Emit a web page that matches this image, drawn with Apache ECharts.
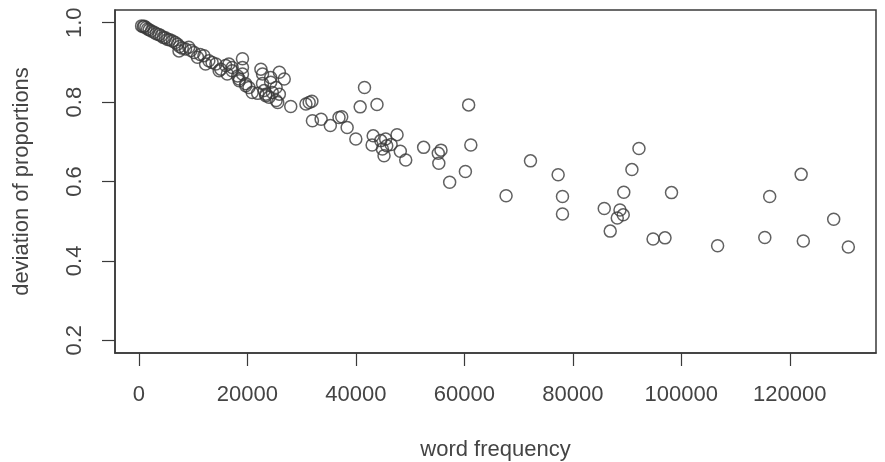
<!DOCTYPE html>
<html>
<head>
<meta charset="utf-8">
<script src="https://cdn.jsdelivr.net/npm/echarts@6/dist/echarts.min.js"></script>
<style>
  html, body { margin: 0; padding: 0; background: #fff; }
  #chart { width: 885px; height: 462px; }
</style>
</head>
<body>
<div id="chart"></div>
<script>
// word frequency (x) and deviation of proportions (y)
const freq = [
  500, 800, 1000, 1300, 1600, 1900, 2300, 2800, 3200, 3700, 4100, 4500, 4900, 5300, 5700,
  6200, 6700, 7100, 7500, 7400, 8000, 8600, 9200, 9600, 10200, 10800, 11300, 12000, 12300,
  12900, 13500, 14200, 14800, 15100, 16000, 16300, 16600, 17200, 17200, 18200, 18500, 18500,
  19100, 19100, 19100, 19700, 19700, 20300, 20900, 21900, 22500, 22800, 22800, 23100, 23400,
  23400, 24000, 24300, 24300, 24600, 25300, 25300, 25600, 25900, 25900, 26800, 28000, 30800,
  31400, 31900, 32000, 33600, 35300, 36900, 37400, 38400, 40000, 40800, 41600, 43200, 43000,
  43900, 44600, 45500, 45700, 44900, 45200, 46500, 47600, 48200, 49200, 52500, 55200, 55700,
  55300, 57300, 60200, 60800, 61200, 67700, 72200, 77300, 78100, 78100, 85800, 86900, 88200,
  88700, 89300, 89400, 90900, 92200, 94800, 97000, 98200, 106700, 115400, 116300, 122100,
  122500, 128100, 130800
];
const dev = [
  0.992, 0.990, 0.991, 0.988, 0.984, 0.982, 0.979, 0.976, 0.972, 0.970, 0.967, 0.963, 0.962, 0.958, 0.957,
  0.954, 0.950, 0.946, 0.940, 0.929, 0.936, 0.934, 0.938, 0.930, 0.925, 0.913, 0.920, 0.917, 0.896,
  0.904, 0.900, 0.896, 0.879, 0.883, 0.892, 0.871, 0.896, 0.879, 0.887, 0.866, 0.858, 0.854,
  0.871, 0.909, 0.887, 0.846, 0.841, 0.837, 0.824, 0.822, 0.883, 0.871, 0.847, 0.829, 0.816,
  0.820, 0.812, 0.850, 0.862, 0.824, 0.804, 0.837, 0.799, 0.875, 0.820, 0.858, 0.789, 0.795,
  0.799, 0.802, 0.753, 0.757, 0.741, 0.761, 0.763, 0.736, 0.707, 0.788, 0.837, 0.715, 0.692,
  0.794, 0.703, 0.707, 0.690, 0.682, 0.665, 0.693, 0.718, 0.676, 0.654, 0.686, 0.671, 0.679,
  0.646, 0.598, 0.625, 0.793, 0.692, 0.564, 0.652, 0.617, 0.562, 0.518, 0.532, 0.475, 0.508,
  0.528, 0.516, 0.573, 0.630, 0.683, 0.455, 0.458, 0.572, 0.438, 0.459, 0.562, 0.618,
  0.450, 0.505, 0.435
];
const xTicks = [0, 20000, 40000, 60000, 80000, 100000, 120000];
const yTicks = [0.2, 0.4, 0.6, 0.8, 1.0];

const points = freq.map((f, i) => [f, dev[i]]);

const ink = '#3a3a3a';
const textInk = '#444';
const font = 'Liberation Sans, Arial, sans-serif';

let chart = echarts.init(document.getElementById('chart'));
chart.setOption({
  animation: false,
  backgroundColor: '#fff',
  grid: {
    left: 115, right: 9, top: 10, bottom: 109,
    outerBoundsMode: 'none',
    containLabel: false,
    show: true, borderColor: ink, borderWidth: 1.5
  },
  xAxis: {
    type: 'value',
    min: -4400, max: 135900,
    name: 'word frequency',
    nameLocation: 'middle',
    nameGap: 86,
    nameTextStyle: { fontSize: 22, color: textInk, fontFamily: font },
    splitLine: { show: false },
    axisLine: { show: true, onZero: false, lineStyle: { color: ink, width: 1.5 } },
    axisTick: { show: true, length: 13, customValues: xTicks, lineStyle: { color: ink, width: 1.2 } },
    axisLabel: {
      customValues: xTicks, margin: 31, fontSize: 22, color: textInk, fontFamily: font,
      formatter: (v) => String(v)
    }
  },
  yAxis: {
    type: 'value',
    min: 0.168, max: 1.032,
    name: 'deviation of proportions',
    nameLocation: 'middle',
    nameGap: 82,
    nameTextStyle: { fontSize: 22, color: textInk, fontFamily: font },
    splitLine: { show: false },
    axisLine: { show: true, onZero: false, lineStyle: { color: ink, width: 1.5 } },
    axisTick: { show: true, length: 13, customValues: yTicks, lineStyle: { color: ink, width: 1.2 } },
    axisLabel: {
      customValues: yTicks, rotate: 90, margin: 29, fontSize: 22, color: textInk, fontFamily: font,
      formatter: (v) => v.toFixed(1)
    }
  },
  series: [{
    type: 'scatter',
    data: points,
    symbol: 'circle',
    symbolSize: 12,
    itemStyle: { color: 'rgba(0,0,0,0)', borderColor: ink, borderWidth: 1.5 }
  }]
});
</script>
</body>
</html>
